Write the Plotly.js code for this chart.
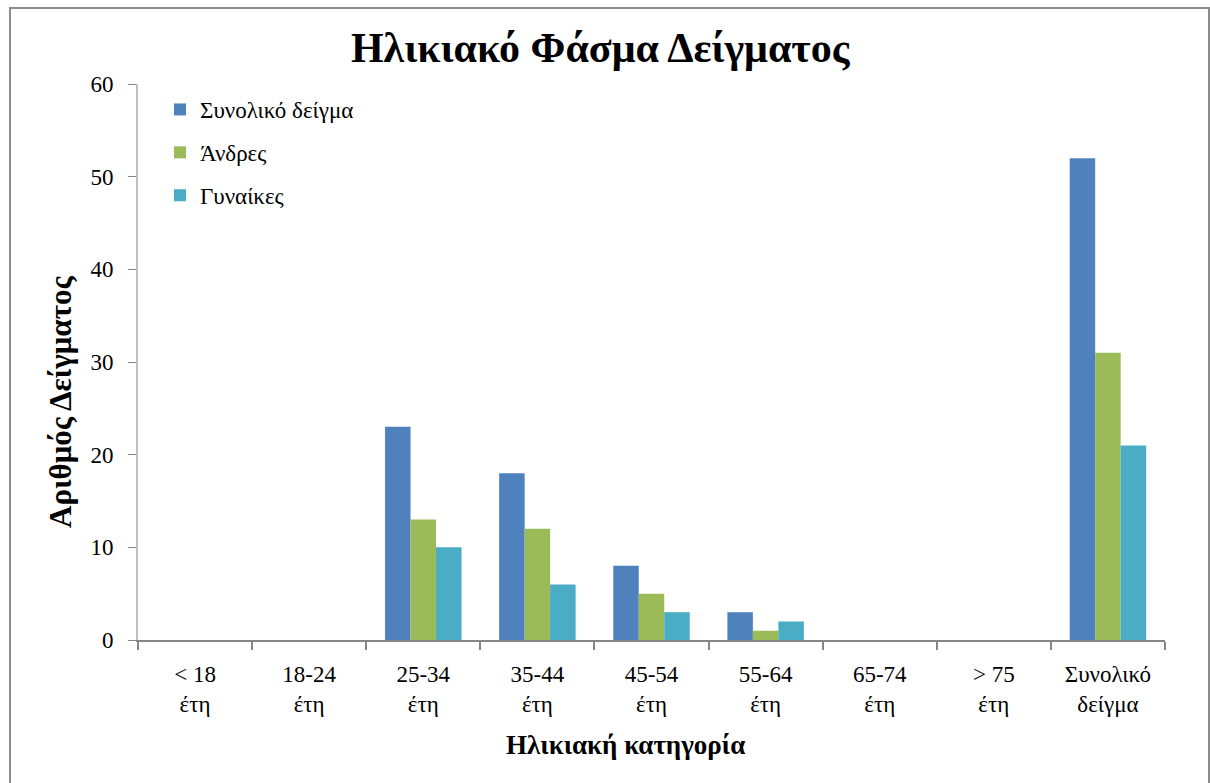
<!DOCTYPE html>
<html>
<head>
<meta charset="utf-8">
<script src="https://cdn.plot.ly/plotly-3.0.1.min.js"></script>
<style>
html,body{margin:0;padding:0;background:#fff;}
#chart{width:1210px;height:783px;}
</style>
</head>
<body>
<div id="chart"></div>
<script>
const categories = ["< 18<br>έτη","18-24<br>έτη","25-34<br>έτη","35-44<br>έτη","45-54<br>έτη","55-64<br>έτη","65-74<br>έτη","> 75<br>έτη","Συνολικό<br>δείγμα"];
const seriesNames = ["Συνολικό δείγμα","Άνδρες","Γυναίκες"];
const totalSample = [0,0,23,18,8,3,0,0,52];
const men = [0,0,13,12,5,1,0,0,31];
const women = [0,0,10,6,3,2,0,0,21];
const colors = ["#4F81BD","#9BBB59","#4BACC6"];
const yTicks = [0,10,20,30,40,50,60];

const font = "'Liberation Serif', 'DejaVu Serif', serif";
const values = [totalSample, men, women];
const traces = values.map((v,i)=>({
  type:"bar", x:categories, y:v, name:seriesNames[i], legendgroup:"g"+i,
  marker:{color:colors[i], line:{width:0}}
}));

const W=1210,H=783, L=138, R=45, T=84, B=143;
const pw=W-L-R, ph=H-T-B;
const px = x => (x-L)/pw;
const py = y => (H-B-y)/ph;

const layout = {
  width:W, height:H,
  margin:{l:L, r:R, t:T, b:B, pad:0},
  paper_bgcolor:"#fff", plot_bgcolor:"#fff",
  font:{family:font, color:"#000", size:22},
  title:{text:"<b>Ηλικιακό Φάσμα Δείγματος</b>", font:{family:font, size:42, color:"#000"}, x:0.496, xanchor:"center", y:0.94, yanchor:"middle"},
  barmode:"group", bargap:0.33, bargroupgap:0,
  showlegend:true,
  legend:{x:px(160), y:py(88), xanchor:"left", yanchor:"top", font:{family:font,size:23,color:"#000"}, bgcolor:"rgba(0,0,0,0)", itemwidth:30, tracegroupgap:10, traceorder:"grouped"},
  xaxis:{type:"category", showline:true, linecolor:"#868686", linewidth:2, ticks:"outside", tickson:"boundaries", ticklen:8, tickcolor:"#868686", tickwidth:2, showgrid:false, tickfont:{family:font,size:23,color:"#000"}, ticklabelstandoff:12},
  yaxis:{range:[0,60], tickvals:yTicks, showline:true, linecolor:"#BFBFBF", linewidth:2, ticks:"outside", ticklen:8, tickcolor:"#868686", tickwidth:1, showgrid:false, zeroline:false, tickfont:{family:font,size:23,color:"#000"}, ticklabelstandoff:10},
  annotations:[
    {text:"<b>Ηλικιακή κατηγορία</b>", xref:"paper", yref:"paper", x:px(625), y:py(745), xanchor:"center", yanchor:"middle", showarrow:false, font:{family:font,size:27,color:"#000"}},
    {text:"<b>Αριθμός Δείγματος</b>", xref:"paper", yref:"paper", x:px(60), y:py(402), xanchor:"center", yanchor:"middle", textangle:-90, showarrow:false, font:{family:font,size:31,color:"#000"}}
  ],
  shapes:[
    {type:"path", xref:"paper", yref:"paper", path:`M ${px(10)} ${py(790)} L ${px(10)} ${py(8)} L ${px(1209)} ${py(8)} L ${px(1209)} ${py(790)}`, line:{color:"#8c8c8c", width:2}, layer:"above"}
  ]
};
Plotly.newPlot("chart", traces, layout, {displayModeBar:false, staticPlot:true});
</script>
</body>
</html>
